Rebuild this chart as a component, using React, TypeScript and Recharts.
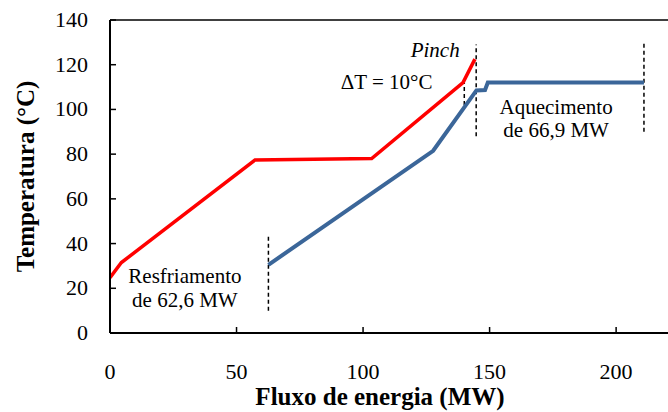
import { LineChart, Line, XAxis, YAxis, ReferenceLine, ReferenceDot } from "recharts";

// curva composta quente (resfriamento)
const hotCurve = [
  { x: 0, y: 24.7 },
  { x: 4.5, y: 31.5 },
  { x: 57.3, y: 77.4 },
  { x: 103.4, y: 78 },
  { x: 139.5, y: 112 },
  { x: 144.2, y: 122.5 },
];

// curva composta fria (aquecimento)
const coldCurve = [
  { x: 62.6, y: 30.5 },
  { x: 127.7, y: 81.5 },
  { x: 144.8, y: 108.5 },
  { x: 148.2, y: 108.7 },
  { x: 149.3, y: 112 },
  { x: 211, y: 112 },
];

// marcas tracejadas verticais
const dashStart = [{ x: 0, y: 10 }, { x: 0, y: 44 }];
const dashCold = [{ x: 62.6, y: 10 }, { x: 62.6, y: 44 }];
const dashPinch = [{ x: 144.7, y: 88 }, { x: 144.7, y: 129 }];
const dashDeltaT = [{ x: 140, y: 102 }, { x: 140, y: 112 }];
const dashEnd = [{ x: 211, y: 90 }, { x: 211, y: 130 }];

const xTicks = [0, 50, 100, 150, 200];
const yTicks = [0, 20, 40, 60, 80, 100, 120, 140];

const notes = [
  { x: 128.5, y: 126.6, text: "Pinch", italic: true },
  { x: 109.3, y: 112.3, text: "ΔT = 10°C", italic: false },
  { x: 29.6, y: 25.4, text: "Resfriamento", italic: false },
  { x: 29.6, y: 14.9, text: "de 62,6 MW", italic: false },
  { x: 176.3, y: 101, text: "Aquecimento", italic: false },
  { x: 176.3, y: 91, text: "de 66,9 MW", italic: false },
];

const font = "Liberation Serif";

function XTick(props: any) {
  const { x, y, payload } = props;
  return (
    <g>
      <line x1={x} y1={y} x2={x} y2={y - 6} stroke="#000" strokeWidth={1.5} />
      <text x={x} y={y + 46} textAnchor="middle" fontFamily={font} fontSize={22} fill="#000">
        {payload.value}
      </text>
    </g>
  );
}

function YTick(props: any) {
  const { x, y, payload } = props;
  return (
    <g>
      <line x1={x} y1={y} x2={x + 6} y2={y} stroke="#000" strokeWidth={1.5} />
      <text x={x - 22} y={y + 7} textAnchor="end" fontFamily={font} fontSize={22} fill="#000">
        {payload.value}
      </text>
    </g>
  );
}

function Note(props: any) {
  const { viewBox, value, italic } = props;
  const cx = viewBox.x + (viewBox.width || 0) / 2;
  const cy = viewBox.y + (viewBox.height || 0) / 2;
  return (
    <text
      x={cx}
      y={cy + 7}
      textAnchor="middle"
      fontFamily={font}
      fontSize={21}
      fontStyle={italic ? "italic" : "normal"}
      fill="#000"
    >
      {value}
    </text>
  );
}

const dashed = [dashStart, dashCold, dashPinch, dashDeltaT, dashEnd];

export default function App() {
  return (
    <div style={{ position: "absolute", left: 0, top: 0, background: "#fff", fontFamily: font }}>
      <LineChart width={668} height={412} margin={{ top: 20, right: 0, bottom: 49, left: 50 }}>
        <XAxis
          type="number"
          dataKey="x"
          domain={[0, 220.5]}
          ticks={xTicks}
          allowDataOverflow
          tickSize={0}
          tickMargin={0}
          tick={XTick}
          height={30}
          axisLine={{ stroke: "#000", strokeWidth: 2 }}
          tickLine={false}
          label={{
            value: "Fluxo de energia (MW)",
            position: "insideBottom",
            offset: -42,
            dx: -9,
            style: { fontFamily: font, fontSize: 25, fontWeight: "bold", fill: "#000" },
          }}
        />
        <YAxis
          type="number"
          domain={[0, 140]}
          ticks={yTicks}
          tickSize={0}
          tickMargin={0}
          tick={YTick}
          width={60}
          axisLine={{ stroke: "#000", strokeWidth: 2 }}
          tickLine={false}
          label={{
            value: "Temperatura (°C)",
            angle: -90,
            position: "insideLeft",
            dx: -30,
            dy: 0,
            style: { fontFamily: font, fontSize: 25, fontWeight: "bold", fill: "#000", textAnchor: "middle" },
          }}
        />
        <ReferenceLine y={140} stroke="#000" strokeWidth={1.5} />
        {dashed.map((d, i) => (
          <Line
            key={"dash-" + i}
            data={d}
            dataKey="y"
            stroke="#000"
            strokeWidth={1.5}
            strokeDasharray="4 3"
            dot={false}
            isAnimationActive={false}
          />
        ))}
        <Line
          data={hotCurve}
          dataKey="y"
          type="linear"
          stroke="#ff0000"
          strokeWidth={3.5}
          dot={false}
          isAnimationActive={false}
        />
        <Line
          data={coldCurve}
          dataKey="y"
          type="linear"
          stroke="#3b6699"
          strokeWidth={4}
          dot={false}
          isAnimationActive={false}
        />
        {notes.map((n, i) => (
          <ReferenceDot
            key={"note-" + i}
            x={n.x}
            y={n.y}
            r={0}
            stroke="none"
            label={<Note value={n.text} italic={n.italic} />}
          />
        ))}
      </LineChart>
    </div>
  );
}
